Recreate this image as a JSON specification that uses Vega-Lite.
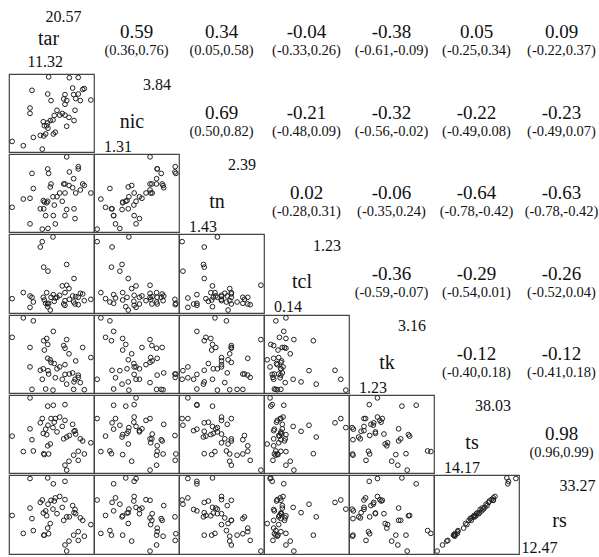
{
"padding": {"left": 8, "top": -8, "right": 0, "bottom": 0},
"spacing": 0,
"config": {
 "view": {"stroke": null},
 "point": {"shape": "circle", "filled": false, "size": 22, "color": "#222", "strokeWidth": 1, "opacity": 1},
 "text": {"font": "Liberation Serif", "color": "#111"},
 "style": {
  "corr": {"fontSize": 19, "align": "center", "baseline": "middle", "dy": 0},
  "ci": {"fontSize": 14.5, "align": "center", "baseline": "middle", "dy": 19},
  "vname": {"fontSize": 20, "align": "center", "baseline": "middle", "dx": -4.5, "dy": 8.5},
  "vmax": {"fontSize": 16, "align": "right", "baseline": "middle", "dx": 34.5, "dy": -28},
  "vmin": {"fontSize": 16, "align": "left", "baseline": "middle", "dx": -32.5, "dy": 33.5}
 }
},
"datasets": {
 "obs": [
  {"tar":15.61,"nic":3.84,"tn":2.17,"tcl":0.24,"tk":1.66,"ts":19.5,"rs":17.4},
  {"tar":18.04,"nic":3.81,"tn":2.19,"tcl":0.30,"tk":1.66,"ts":25.6,"rs":22.2},
  {"tar":19.09,"nic":3.82,"tn":2.26,"tcl":0.22,"tk":1.57,"ts":17.4,"rs":15.5},
  {"tar":13.65,"nic":3.37,"tn":2.17,"tcl":0.33,"tk":1.25,"ts":24.2,"rs":21.7},
  {"tar":18.43,"nic":3.45,"tn":1.98,"tcl":0.35,"tk":1.69,"ts":29.3,"rs":25.4},
  {"tar":19.80,"nic":3.43,"tn":2.01,"tcl":0.28,"tk":1.24,"ts":19.5,"rs":16.7},
  {"tar":19.61,"nic":3.40,"tn":2.03,"tcl":0.38,"tk":2.37,"ts":23.8,"rs":21.2},
  {"tar":19.09,"nic":3.24,"tn":2.23,"tcl":0.33,"tk":1.63,"ts":20.4,"rs":18.0},
  {"tar":15.50,"nic":3.24,"tn":2.23,"tcl":0.23,"tk":2.08,"ts":22.2,"rs":19.0},
  {"tar":17.53,"nic":3.22,"tn":2.03,"tcl":0.40,"tk":2.35,"ts":15.8,"rs":14.2},
  {"tar":18.55,"nic":3.22,"tn":2.10,"tcl":0.26,"tk":1.25,"ts":19.1,"rs":17.0},
  {"tar":15.89,"nic":3.01,"tn":2.03,"tcl":0.33,"tk":1.97,"ts":31.2,"rs":26.9},
  {"tar":17.38,"nic":3.07,"tn":2.03,"tcl":0.23,"tk":2.42,"ts":24.5,"rs":21.2},
  {"tar":17.73,"nic":3.01,"tn":2.39,"tcl":0.51,"tk":2.58,"ts":14.17,"rs":12.47},
  {"tar":19.33,"nic":3.01,"tn":1.95,"tcl":0.39,"tk":1.43,"ts":24.5,"rs":21.9},
  {"tar":18.79,"nic":3.08,"tn":1.91,"tcl":0.34,"tk":2.01,"ts":26.1,"rs":23.1},
  {"tar":20.57,"nic":3.03,"tn":1.91,"tcl":0.30,"tk":2.10,"ts":23.2,"rs":20.0},
  {"tar":13.42,"nic":2.75,"tn":1.84,"tcl":0.35,"tk":2.37,"ts":27.8,"rs":24.7},
  {"tar":13.42,"nic":2.56,"tn":1.50,"tcl":0.18,"tk":1.85,"ts":38.03,"rs":33.1},
  {"tar":17.53,"nic":2.88,"tn":1.91,"tcl":0.28,"tk":1.91,"ts":30.6,"rs":27.1},
  {"tar":16.59,"nic":2.67,"tn":1.86,"tcl":0.33,"tk":1.80,"ts":26.8,"rs":23.1},
  {"tar":18.71,"nic":2.67,"tn":1.57,"tcl":0.23,"tk":1.52,"ts":27.2,"rs":24.3},
  {"tar":16.91,"nic":2.50,"tn":1.91,"tcl":0.36,"tk":1.85,"ts":31.7,"rs":28.0},
  {"tar":17.21,"nic":2.56,"tn":1.80,"tcl":0.50,"tk":1.52,"ts":28.6,"rs":24.9},
  {"tar":16.27,"nic":2.49,"tn":1.75,"tcl":0.27,"tk":1.94,"ts":30.0,"rs":26.7},
  {"tar":17.53,"nic":2.50,"tn":1.61,"tcl":0.21,"tk":1.65,"ts":35.8,"rs":32.3},
  {"tar":18.00,"nic":2.42,"tn":2.01,"tcl":0.46,"tk":2.20,"ts":17.1,"rs":15.3},
  {"tar":16.12,"nic":2.33,"tn":1.86,"tcl":1.23,"tk":1.23,"ts":28.2,"rs":24.4},
  {"tar":14.98,"nic":2.27,"tn":1.81,"tcl":0.33,"tk":1.80,"ts":26.3,"rs":23.3},
  {"tar":15.50,"nic":2.23,"tn":1.80,"tcl":0.19,"tk":2.45,"ts":35.3,"rs":33.27},
  {"tar":15.38,"nic":2.13,"tn":1.78,"tcl":0.40,"tk":2.61,"ts":25.9,"rs":22.5},
  {"tar":15.53,"nic":2.04,"tn":1.44,"tcl":0.72,"tk":1.75,"ts":29.0,"rs":25.8},
  {"tar":18.59,"nic":2.31,"tn":1.70,"tcl":0.61,"tk":1.45,"ts":27.0,"rs":23.4},
  {"tar":17.73,"nic":2.11,"tn":1.69,"tcl":0.82,"tk":1.39,"ts":25.1,"rs":22.2},
  {"tar":14.63,"nic":1.79,"tn":1.70,"tcl":1.08,"tk":1.76,"ts":29.8,"rs":26.3},
  {"tar":15.03,"nic":1.77,"tn":1.70,"tcl":0.78,"tk":2.55,"ts":19.6,"rs":17.0},
  {"tar":15.26,"nic":1.84,"tn":1.61,"tcl":0.24,"tk":1.26,"ts":27.7,"rs":23.9},
  {"tar":16.16,"nic":1.84,"tn":1.61,"tcl":0.37,"tk":2.80,"ts":35.6,"rs":31.6},
  {"tar":16.39,"nic":1.90,"tn":1.50,"tcl":0.32,"tk":1.56,"ts":31.2,"rs":27.6},
  {"tar":13.81,"nic":1.72,"tn":1.97,"tcl":0.26,"tk":3.08,"ts":20.5,"rs":18.3},
  {"tar":11.32,"nic":1.58,"tn":1.72,"tcl":0.31,"tk":2.64,"ts":25.4,"rs":22.6},
  {"tar":12.63,"nic":1.43,"tn":1.83,"tcl":0.40,"tk":3.16,"ts":20.3,"rs":17.5},
  {"tar":14.86,"nic":1.31,"tn":1.43,"tcl":1.16,"tk":1.52,"ts":31.2,"rs":27.0},
  {"tar":15.80,"nic":2.31,"tn":1.99,"tcl":0.14,"tk":2.04,"ts":22.8,"rs":20.3},
  {"tar":15.10,"nic":2.13,"tn":1.79,"tcl":0.29,"tk":2.30,"ts":19.3,"rs":17.0}
 ],
 "cors": [
  {"id":"tar-nic","r":"0.59","ci":"(0.36,0.76)"},
  {"id":"tar-tn","r":"0.34","ci":"(0.05,0.58)"},
  {"id":"tar-tcl","r":"-0.04","ci":"(-0.33,0.26)"},
  {"id":"tar-tk","r":"-0.38","ci":"(-0.61,-0.09)"},
  {"id":"tar-ts","r":"0.05","ci":"(-0.25,0.34)"},
  {"id":"tar-rs","r":"0.09","ci":"(-0.22,0.37)"},
  {"id":"nic-tn","r":"0.69","ci":"(0.50,0.82)"},
  {"id":"nic-tcl","r":"-0.21","ci":"(-0.48,0.09)"},
  {"id":"nic-tk","r":"-0.32","ci":"(-0.56,-0.02)"},
  {"id":"nic-ts","r":"-0.22","ci":"(-0.49,0.08)"},
  {"id":"nic-rs","r":"-0.23","ci":"(-0.49,0.07)"},
  {"id":"tn-tcl","r":"0.02","ci":"(-0.28,0.31)"},
  {"id":"tn-tk","r":"-0.06","ci":"(-0.35,0.24)"},
  {"id":"tn-ts","r":"-0.64","ci":"(-0.78,-0.42)"},
  {"id":"tn-rs","r":"-0.63","ci":"(-0.78,-0.42)"},
  {"id":"tcl-tk","r":"-0.36","ci":"(-0.59,-0.07)"},
  {"id":"tcl-ts","r":"-0.29","ci":"(-0.54,0.01)"},
  {"id":"tcl-rs","r":"-0.26","ci":"(-0.52,0.04)"},
  {"id":"tk-ts","r":"-0.12","ci":"(-0.40,0.18)"},
  {"id":"tk-rs","r":"-0.12","ci":"(-0.41,0.18)"},
  {"id":"ts-rs","r":"0.98","ci":"(0.96,0.99)"}
 ],
 "diag": [
  {"v":"tar","hi":"20.57","lo":"11.32"},
  {"v":"nic","hi":"3.84","lo":"1.31"},
  {"v":"tn","hi":"2.39","lo":"1.43"},
  {"v":"tcl","hi":"1.23","lo":"0.14"},
  {"v":"tk","hi":"3.16","lo":"1.23"},
  {"v":"ts","hi":"38.03","lo":"14.17"},
  {"v":"rs","hi":"33.27","lo":"12.47"}
 ]
},
"vconcat": [
 {"spacing": 0, "bounds": "flush", "hconcat": [
  {"width":85,"height":80.3,"data":{"name":"diag"},"transform":[{"filter":{"field":"v","equal":"tar"}}],"layer":[
   {"mark":{"type":"text","clip":true,"style":"vmax","dx":30,"dy":-15.5},"encoding":{"text":{"field":"hi"}}},
   {"mark":{"type":"text","clip":true,"style":"vname","dx":-3,"dy":7}, "encoding":{"text":{"field":"v"}}},
   {"mark":{"type":"text","clip":true,"style":"vmin","dx":-24,"dy":29.5},"encoding":{"text":{"field":"lo"}}}]},
  {"width":85,"height":80.3,"data":{"name":"cors"},"transform":[{"filter":{"field":"id","equal":"tar-nic"}}],"layer":[{"mark":{"type":"text","clip":true,"style":"corr"},"encoding":{"text":{"field":"r"}}},{"mark":{"type":"text","clip":true,"style":"ci"},"encoding":{"text":{"field":"ci"}}}]},
  {"width":85,"height":80.3,"data":{"name":"cors"},"transform":[{"filter":{"field":"id","equal":"tar-tn"}}],"layer":[{"mark":{"type":"text","clip":true,"style":"corr"},"encoding":{"text":{"field":"r"}}},{"mark":{"type":"text","clip":true,"style":"ci"},"encoding":{"text":{"field":"ci"}}}]},
  {"width":85,"height":80.3,"data":{"name":"cors"},"transform":[{"filter":{"field":"id","equal":"tar-tcl"}}],"layer":[{"mark":{"type":"text","clip":true,"style":"corr"},"encoding":{"text":{"field":"r"}}},{"mark":{"type":"text","clip":true,"style":"ci"},"encoding":{"text":{"field":"ci"}}}]},
  {"width":85,"height":80.3,"data":{"name":"cors"},"transform":[{"filter":{"field":"id","equal":"tar-tk"}}],"layer":[{"mark":{"type":"text","clip":true,"style":"corr"},"encoding":{"text":{"field":"r"}}},{"mark":{"type":"text","clip":true,"style":"ci"},"encoding":{"text":{"field":"ci"}}}]},
  {"width":85,"height":80.3,"data":{"name":"cors"},"transform":[{"filter":{"field":"id","equal":"tar-ts"}}],"layer":[{"mark":{"type":"text","clip":true,"style":"corr"},"encoding":{"text":{"field":"r"}}},{"mark":{"type":"text","clip":true,"style":"ci"},"encoding":{"text":{"field":"ci"}}}]},
  {"width":81,"height":80.3,"data":{"name":"cors"},"transform":[{"filter":{"field":"id","equal":"tar-rs"}}],"layer":[{"mark":{"type":"text","clip":true,"style":"corr","dx":2},"encoding":{"text":{"field":"r"}}},{"mark":{"type":"text","clip":true,"style":"ci","dx":2},"encoding":{"text":{"field":"ci"}}}]}
 ]},
 {"spacing": 0, "bounds": "flush", "hconcat": [
  {"width":85,"height":78,"data":{"name":"obs"},"view":{"stroke":"#444","strokeWidth":1.2},"mark":{"type":"point","clip":true},"encoding":{"x":{"field":"tar","type":"quantitative","scale":{"domain":[10.95,20.94],"nice":false,"zero":false},"axis":null},"y":{"field":"nic","type":"quantitative","scale":{"domain":[1.209,3.941],"nice":false,"zero":false},"axis":null}}},
  {"width":85,"height":78,"data":{"name":"diag"},"transform":[{"filter":{"field":"v","equal":"nic"}}],"layer":[
   {"mark":{"type":"text","clip":true,"style":"vmax"},"encoding":{"text":{"field":"hi"}}},
   {"mark":{"type":"text","clip":true,"style":"vname"},"encoding":{"text":{"field":"v"}}},
   {"mark":{"type":"text","clip":true,"style":"vmin"},"encoding":{"text":{"field":"lo"}}}]},
  {"width":85,"height":78,"data":{"name":"cors"},"transform":[{"filter":{"field":"id","equal":"nic-tn"}}],"layer":[{"mark":{"type":"text","clip":true,"style":"corr"},"encoding":{"text":{"field":"r"}}},{"mark":{"type":"text","clip":true,"style":"ci"},"encoding":{"text":{"field":"ci"}}}]},
  {"width":85,"height":78,"data":{"name":"cors"},"transform":[{"filter":{"field":"id","equal":"nic-tcl"}}],"layer":[{"mark":{"type":"text","clip":true,"style":"corr"},"encoding":{"text":{"field":"r"}}},{"mark":{"type":"text","clip":true,"style":"ci"},"encoding":{"text":{"field":"ci"}}}]},
  {"width":85,"height":78,"data":{"name":"cors"},"transform":[{"filter":{"field":"id","equal":"nic-tk"}}],"layer":[{"mark":{"type":"text","clip":true,"style":"corr"},"encoding":{"text":{"field":"r"}}},{"mark":{"type":"text","clip":true,"style":"ci"},"encoding":{"text":{"field":"ci"}}}]},
  {"width":85,"height":78,"data":{"name":"cors"},"transform":[{"filter":{"field":"id","equal":"nic-ts"}}],"layer":[{"mark":{"type":"text","clip":true,"style":"corr"},"encoding":{"text":{"field":"r"}}},{"mark":{"type":"text","clip":true,"style":"ci"},"encoding":{"text":{"field":"ci"}}}]},
  {"width":81,"height":78,"data":{"name":"cors"},"transform":[{"filter":{"field":"id","equal":"nic-rs"}}],"layer":[{"mark":{"type":"text","clip":true,"style":"corr","dx":2},"encoding":{"text":{"field":"r"}}},{"mark":{"type":"text","clip":true,"style":"ci","dx":2},"encoding":{"text":{"field":"ci"}}}]}
 ]},
 {"spacing": 0, "bounds": "flush", "hconcat": [
  {"width":85,"height":78,"data":{"name":"obs"},"view":{"stroke":"#444","strokeWidth":1.2},"mark":{"type":"point","clip":true},"encoding":{"x":{"field":"tar","type":"quantitative","scale":{"domain":[10.95,20.94],"nice":false,"zero":false},"axis":null},"y":{"field":"tn","type":"quantitative","scale":{"domain":[1.392,2.428],"nice":false,"zero":false},"axis":null}}},
  {"width":85,"height":78,"data":{"name":"obs"},"view":{"stroke":"#444","strokeWidth":1.2},"mark":{"type":"point","clip":true},"encoding":{"x":{"field":"nic","type":"quantitative","scale":{"domain":[1.209,3.941],"nice":false,"zero":false},"axis":null},"y":{"field":"tn","type":"quantitative","scale":{"domain":[1.392,2.428],"nice":false,"zero":false},"axis":null}}},
  {"width":85,"height":78,"data":{"name":"diag"},"transform":[{"filter":{"field":"v","equal":"tn"}}],"layer":[
   {"mark":{"type":"text","clip":true,"style":"vmax"},"encoding":{"text":{"field":"hi"}}},
   {"mark":{"type":"text","clip":true,"style":"vname"},"encoding":{"text":{"field":"v"}}},
   {"mark":{"type":"text","clip":true,"style":"vmin"},"encoding":{"text":{"field":"lo"}}}]},
  {"width":85,"height":78,"data":{"name":"cors"},"transform":[{"filter":{"field":"id","equal":"tn-tcl"}}],"layer":[{"mark":{"type":"text","clip":true,"style":"corr"},"encoding":{"text":{"field":"r"}}},{"mark":{"type":"text","clip":true,"style":"ci"},"encoding":{"text":{"field":"ci"}}}]},
  {"width":85,"height":78,"data":{"name":"cors"},"transform":[{"filter":{"field":"id","equal":"tn-tk"}}],"layer":[{"mark":{"type":"text","clip":true,"style":"corr"},"encoding":{"text":{"field":"r"}}},{"mark":{"type":"text","clip":true,"style":"ci"},"encoding":{"text":{"field":"ci"}}}]},
  {"width":85,"height":78,"data":{"name":"cors"},"transform":[{"filter":{"field":"id","equal":"tn-ts"}}],"layer":[{"mark":{"type":"text","clip":true,"style":"corr"},"encoding":{"text":{"field":"r"}}},{"mark":{"type":"text","clip":true,"style":"ci"},"encoding":{"text":{"field":"ci"}}}]},
  {"width":81,"height":78,"data":{"name":"cors"},"transform":[{"filter":{"field":"id","equal":"tn-rs"}}],"layer":[{"mark":{"type":"text","clip":true,"style":"corr","dx":2},"encoding":{"text":{"field":"r"}}},{"mark":{"type":"text","clip":true,"style":"ci","dx":2},"encoding":{"text":{"field":"ci"}}}]}
 ]},
 {"spacing": 0, "bounds": "flush", "hconcat": [
  {"width":85,"height":79,"data":{"name":"obs"},"view":{"stroke":"#444","strokeWidth":1.2},"mark":{"type":"point","clip":true},"encoding":{"x":{"field":"tar","type":"quantitative","scale":{"domain":[10.95,20.94],"nice":false,"zero":false},"axis":null},"y":{"field":"tcl","type":"quantitative","scale":{"domain":[0.096,1.274],"nice":false,"zero":false},"axis":null}}},
  {"width":85,"height":79,"data":{"name":"obs"},"view":{"stroke":"#444","strokeWidth":1.2},"mark":{"type":"point","clip":true},"encoding":{"x":{"field":"nic","type":"quantitative","scale":{"domain":[1.209,3.941],"nice":false,"zero":false},"axis":null},"y":{"field":"tcl","type":"quantitative","scale":{"domain":[0.096,1.274],"nice":false,"zero":false},"axis":null}}},
  {"width":85,"height":79,"data":{"name":"obs"},"view":{"stroke":"#444","strokeWidth":1.2},"mark":{"type":"point","clip":true},"encoding":{"x":{"field":"tn","type":"quantitative","scale":{"domain":[1.392,2.428],"nice":false,"zero":false},"axis":null},"y":{"field":"tcl","type":"quantitative","scale":{"domain":[0.096,1.274],"nice":false,"zero":false},"axis":null}}},
  {"width":85,"height":79,"data":{"name":"diag"},"transform":[{"filter":{"field":"v","equal":"tcl"}}],"layer":[
   {"mark":{"type":"text","clip":true,"style":"vmax"},"encoding":{"text":{"field":"hi"}}},
   {"mark":{"type":"text","clip":true,"style":"vname"},"encoding":{"text":{"field":"v"}}},
   {"mark":{"type":"text","clip":true,"style":"vmin"},"encoding":{"text":{"field":"lo"}}}]},
  {"width":85,"height":79,"data":{"name":"cors"},"transform":[{"filter":{"field":"id","equal":"tcl-tk"}}],"layer":[{"mark":{"type":"text","clip":true,"style":"corr"},"encoding":{"text":{"field":"r"}}},{"mark":{"type":"text","clip":true,"style":"ci"},"encoding":{"text":{"field":"ci"}}}]},
  {"width":85,"height":79,"data":{"name":"cors"},"transform":[{"filter":{"field":"id","equal":"tcl-ts"}}],"layer":[{"mark":{"type":"text","clip":true,"style":"corr"},"encoding":{"text":{"field":"r"}}},{"mark":{"type":"text","clip":true,"style":"ci"},"encoding":{"text":{"field":"ci"}}}]},
  {"width":81,"height":79,"data":{"name":"cors"},"transform":[{"filter":{"field":"id","equal":"tcl-rs"}}],"layer":[{"mark":{"type":"text","clip":true,"style":"corr","dx":2},"encoding":{"text":{"field":"r"}}},{"mark":{"type":"text","clip":true,"style":"ci","dx":2},"encoding":{"text":{"field":"ci"}}}]}
 ]},
 {"spacing": 0, "bounds": "flush", "hconcat": [
  {"width":85,"height":78,"data":{"name":"obs"},"view":{"stroke":"#444","strokeWidth":1.2},"mark":{"type":"point","clip":true},"encoding":{"x":{"field":"tar","type":"quantitative","scale":{"domain":[10.95,20.94],"nice":false,"zero":false},"axis":null},"y":{"field":"tk","type":"quantitative","scale":{"domain":[1.153,3.237],"nice":false,"zero":false},"axis":null}}},
  {"width":85,"height":78,"data":{"name":"obs"},"view":{"stroke":"#444","strokeWidth":1.2},"mark":{"type":"point","clip":true},"encoding":{"x":{"field":"nic","type":"quantitative","scale":{"domain":[1.209,3.941],"nice":false,"zero":false},"axis":null},"y":{"field":"tk","type":"quantitative","scale":{"domain":[1.153,3.237],"nice":false,"zero":false},"axis":null}}},
  {"width":85,"height":78,"data":{"name":"obs"},"view":{"stroke":"#444","strokeWidth":1.2},"mark":{"type":"point","clip":true},"encoding":{"x":{"field":"tn","type":"quantitative","scale":{"domain":[1.392,2.428],"nice":false,"zero":false},"axis":null},"y":{"field":"tk","type":"quantitative","scale":{"domain":[1.153,3.237],"nice":false,"zero":false},"axis":null}}},
  {"width":85,"height":78,"data":{"name":"obs"},"view":{"stroke":"#444","strokeWidth":1.2},"mark":{"type":"point","clip":true},"encoding":{"x":{"field":"tcl","type":"quantitative","scale":{"domain":[0.096,1.274],"nice":false,"zero":false},"axis":null},"y":{"field":"tk","type":"quantitative","scale":{"domain":[1.153,3.237],"nice":false,"zero":false},"axis":null}}},
  {"width":85,"height":78,"data":{"name":"diag"},"transform":[{"filter":{"field":"v","equal":"tk"}}],"layer":[
   {"mark":{"type":"text","clip":true,"style":"vmax"},"encoding":{"text":{"field":"hi"}}},
   {"mark":{"type":"text","clip":true,"style":"vname"},"encoding":{"text":{"field":"v"}}},
   {"mark":{"type":"text","clip":true,"style":"vmin"},"encoding":{"text":{"field":"lo"}}}]},
  {"width":85,"height":78,"data":{"name":"cors"},"transform":[{"filter":{"field":"id","equal":"tk-ts"}}],"layer":[{"mark":{"type":"text","clip":true,"style":"corr"},"encoding":{"text":{"field":"r"}}},{"mark":{"type":"text","clip":true,"style":"ci"},"encoding":{"text":{"field":"ci"}}}]},
  {"width":81,"height":78,"data":{"name":"cors"},"transform":[{"filter":{"field":"id","equal":"tk-rs"}}],"layer":[{"mark":{"type":"text","clip":true,"style":"corr","dx":2},"encoding":{"text":{"field":"r"}}},{"mark":{"type":"text","clip":true,"style":"ci","dx":2},"encoding":{"text":{"field":"ci"}}}]}
 ]},
 {"spacing": 0, "bounds": "flush", "hconcat": [
  {"width":85,"height":78,"data":{"name":"obs"},"view":{"stroke":"#444","strokeWidth":1.2},"mark":{"type":"point","clip":true},"encoding":{"x":{"field":"tar","type":"quantitative","scale":{"domain":[10.95,20.94],"nice":false,"zero":false},"axis":null},"y":{"field":"ts","type":"quantitative","scale":{"domain":[13.216,38.984],"nice":false,"zero":false},"axis":null}}},
  {"width":85,"height":78,"data":{"name":"obs"},"view":{"stroke":"#444","strokeWidth":1.2},"mark":{"type":"point","clip":true},"encoding":{"x":{"field":"nic","type":"quantitative","scale":{"domain":[1.209,3.941],"nice":false,"zero":false},"axis":null},"y":{"field":"ts","type":"quantitative","scale":{"domain":[13.216,38.984],"nice":false,"zero":false},"axis":null}}},
  {"width":85,"height":78,"data":{"name":"obs"},"view":{"stroke":"#444","strokeWidth":1.2},"mark":{"type":"point","clip":true},"encoding":{"x":{"field":"tn","type":"quantitative","scale":{"domain":[1.392,2.428],"nice":false,"zero":false},"axis":null},"y":{"field":"ts","type":"quantitative","scale":{"domain":[13.216,38.984],"nice":false,"zero":false},"axis":null}}},
  {"width":85,"height":78,"data":{"name":"obs"},"view":{"stroke":"#444","strokeWidth":1.2},"mark":{"type":"point","clip":true},"encoding":{"x":{"field":"tcl","type":"quantitative","scale":{"domain":[0.096,1.274],"nice":false,"zero":false},"axis":null},"y":{"field":"ts","type":"quantitative","scale":{"domain":[13.216,38.984],"nice":false,"zero":false},"axis":null}}},
  {"width":85,"height":78,"data":{"name":"obs"},"view":{"stroke":"#444","strokeWidth":1.2},"mark":{"type":"point","clip":true},"encoding":{"x":{"field":"tk","type":"quantitative","scale":{"domain":[1.153,3.237],"nice":false,"zero":false},"axis":null},"y":{"field":"ts","type":"quantitative","scale":{"domain":[13.216,38.984],"nice":false,"zero":false},"axis":null}}},
  {"width":85,"height":78,"data":{"name":"diag"},"transform":[{"filter":{"field":"v","equal":"ts"}}],"layer":[
   {"mark":{"type":"text","clip":true,"style":"vmax"},"encoding":{"text":{"field":"hi"}}},
   {"mark":{"type":"text","clip":true,"style":"vname"},"encoding":{"text":{"field":"v"}}},
   {"mark":{"type":"text","clip":true,"style":"vmin"},"encoding":{"text":{"field":"lo"}}}]},
  {"width":81,"height":78,"data":{"name":"cors"},"transform":[{"filter":{"field":"id","equal":"ts-rs"}}],"layer":[{"mark":{"type":"text","clip":true,"style":"corr","dx":2},"encoding":{"text":{"field":"r"}}},{"mark":{"type":"text","clip":true,"style":"ci","dx":2},"encoding":{"text":{"field":"ci"}}}]}
 ]},
 {"spacing": 0, "bounds": "flush", "hconcat": [
  {"width":85,"height":79,"data":{"name":"obs"},"view":{"stroke":"#444","strokeWidth":1.2},"mark":{"type":"point","clip":true},"encoding":{"x":{"field":"tar","type":"quantitative","scale":{"domain":[10.95,20.94],"nice":false,"zero":false},"axis":null},"y":{"field":"rs","type":"quantitative","scale":{"domain":[11.638,34.102],"nice":false,"zero":false},"axis":null}}},
  {"width":85,"height":79,"data":{"name":"obs"},"view":{"stroke":"#444","strokeWidth":1.2},"mark":{"type":"point","clip":true},"encoding":{"x":{"field":"nic","type":"quantitative","scale":{"domain":[1.209,3.941],"nice":false,"zero":false},"axis":null},"y":{"field":"rs","type":"quantitative","scale":{"domain":[11.638,34.102],"nice":false,"zero":false},"axis":null}}},
  {"width":85,"height":79,"data":{"name":"obs"},"view":{"stroke":"#444","strokeWidth":1.2},"mark":{"type":"point","clip":true},"encoding":{"x":{"field":"tn","type":"quantitative","scale":{"domain":[1.392,2.428],"nice":false,"zero":false},"axis":null},"y":{"field":"rs","type":"quantitative","scale":{"domain":[11.638,34.102],"nice":false,"zero":false},"axis":null}}},
  {"width":85,"height":79,"data":{"name":"obs"},"view":{"stroke":"#444","strokeWidth":1.2},"mark":{"type":"point","clip":true},"encoding":{"x":{"field":"tcl","type":"quantitative","scale":{"domain":[0.096,1.274],"nice":false,"zero":false},"axis":null},"y":{"field":"rs","type":"quantitative","scale":{"domain":[11.638,34.102],"nice":false,"zero":false},"axis":null}}},
  {"width":85,"height":79,"data":{"name":"obs"},"view":{"stroke":"#444","strokeWidth":1.2},"mark":{"type":"point","clip":true},"encoding":{"x":{"field":"tk","type":"quantitative","scale":{"domain":[1.153,3.237],"nice":false,"zero":false},"axis":null},"y":{"field":"rs","type":"quantitative","scale":{"domain":[11.638,34.102],"nice":false,"zero":false},"axis":null}}},
  {"width":85,"height":79,"data":{"name":"obs"},"view":{"stroke":"#444","strokeWidth":1.2},"mark":{"type":"point","clip":true},"encoding":{"x":{"field":"ts","type":"quantitative","scale":{"domain":[13.216,38.984],"nice":false,"zero":false},"axis":null},"y":{"field":"rs","type":"quantitative","scale":{"domain":[11.638,34.102],"nice":false,"zero":false},"axis":null}}},
  {"width":81,"height":79,"data":{"name":"diag"},"transform":[{"filter":{"field":"v","equal":"rs"}}],"layer":[
   {"mark":{"type":"text","clip":true,"style":"vmax","dx":36,"dy":-29},"encoding":{"text":{"field":"hi"}}},
   {"mark":{"type":"text","clip":true,"style":"vname","dx":0,"dy":6},"encoding":{"text":{"field":"v"}}},
   {"mark":{"type":"text","clip":true,"style":"vmin","dx":-38,"dy":33.5},"encoding":{"text":{"field":"lo"}}}]}
 ]}
]
}
